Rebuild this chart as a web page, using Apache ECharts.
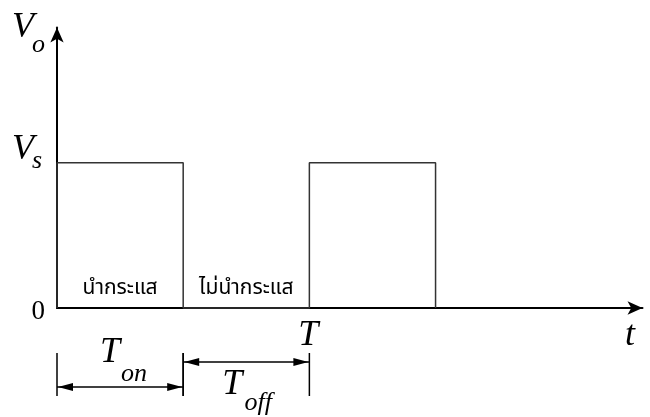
<!DOCTYPE html>
<html>
<head>
<meta charset="utf-8">
<script src="https://cdn.jsdelivr.net/npm/echarts@6/dist/echarts.min.js"></script>
<style>
  html, body { margin: 0; background: #fff; }
  #main { width: 650px; height: 417px; }
</style>
</head>
<body>
<div id="main"></div>
<script>
// square wave: time (in units of Ton) and voltage (in units of Vs)
const waveT = [0, 0, 1, 1, 2, 2, 3, 3];
const waveV = [0, 1, 1, 0, 0, 1, 1, 0];
const stateLabels = ['นำกระแส', 'ไม่นำกระแส'];
const stateCenters = [0.5, 1.5];
const tOn = 1;
const period = 2;
const vs = 1;

const serif = '"Liberation Serif", "DejaVu Serif", serif';
const thai = '"Noto Sans Thai", "Tlwg Typist", sans-serif';

const chart = echarts.init(document.getElementById('main'));

const axisCommon = {
  type: 'value',
  min: 0,
  axisLine: {
    symbol: ['none', 'arrow'],
    symbolSize: [10, 15],
    lineStyle: { color: '#000', width: 2 }
  },
  axisTick: { show: false },
  axisLabel: { show: false },
  splitLine: { show: false }
};

chart.setOption({
  animation: false,
  grid: { left: 57, right: 7.5, top: 27.5, bottom: 109 },
  xAxis: Object.assign({}, axisCommon, { max: 4.64 }),
  yAxis: Object.assign({}, axisCommon, { max: 1.93 }),
  series: [{
    type: 'line',
    data: waveT.map((t, i) => [t, waveV[i]]),
    symbol: 'none',
    clip: false,
    lineStyle: { color: '#333', width: 1.5 }
  }]
});

// annotations placed through the chart's own scales
const px = (x, y) => chart.convertToPixel({ gridIndex: 0 }, [x, y]);
const g = [];

function text(str, x, y, font, align, vAlign) {
  g.push({
    type: 'text',
    style: {
      text: str, x: x, y: y, font: font, fill: '#000',
      textAlign: align || 'left', textVerticalAlign: vAlign || 'top'
    }
  });
}
function line(x1, y1, x2, y2) {
  g.push({ type: 'line', shape: { x1, y1, x2, y2 }, style: { stroke: '#000', lineWidth: 1.5 } });
}
function head(x, y, dir) {
  g.push({
    type: 'polygon',
    shape: { points: [[x, y], [x - dir * 15, y - 4], [x - dir * 15, y + 4]] },
    style: { fill: '#000' }
  });
}
function dim(a, b, yArrow) {
  const p0 = px(a, 0), p1 = px(b, 0);
  line(p0[0], 353, p0[0], 396);
  line(p1[0], 353, p1[0], 396);
  line(p0[0], yArrow, p1[0], yArrow);
  head(p0[0] + 1, yArrow, -1);
  head(p1[0] - 1, yArrow, 1);
}

const origin = px(0, 0);
const tPt = px(period, 0);
const onPt = px(tOn, 0);

// axis names
text('V', 12, 10, 'italic 36px ' + serif);
text('o', 32, 32, 'italic 26px ' + serif);
text('V', 12, 132, 'italic 36px ' + serif);
text('s', 32, 148, 'italic 26px ' + serif);
text('0', origin[0] - 12, origin[1] + 4, '27px ' + serif, 'right', 'middle');
text('T', tPt[0] - 1, origin[1] + 10, 'italic 36px ' + serif, 'center');
text('t', 630, origin[1] + 10, 'italic 36px ' + serif, 'center');

// state labels
stateLabels.forEach((s, i) => {
  const p = px(stateCenters[i], 0);
  text(s, p[0], origin[1] - 8, '21px ' + thai, 'center', 'bottom');
});

// Ton / Toff dimensions
dim(0, tOn, 387);
dim(tOn, period, 362);
text('T', (origin[0] + onPt[0]) / 2 - 10, 335, 'italic 36px ' + serif, 'center');
text('on', (origin[0] + onPt[0]) / 2 + 14, 361, 'italic 26px ' + serif, 'center');
text('T', (onPt[0] + tPt[0]) / 2 - 14, 367, 'italic 36px ' + serif, 'center');
text('off', (onPt[0] + tPt[0]) / 2 + 12, 390, 'italic 26px ' + serif, 'center');

chart.setOption({ graphic: g });
</script>
</body>
</html>
